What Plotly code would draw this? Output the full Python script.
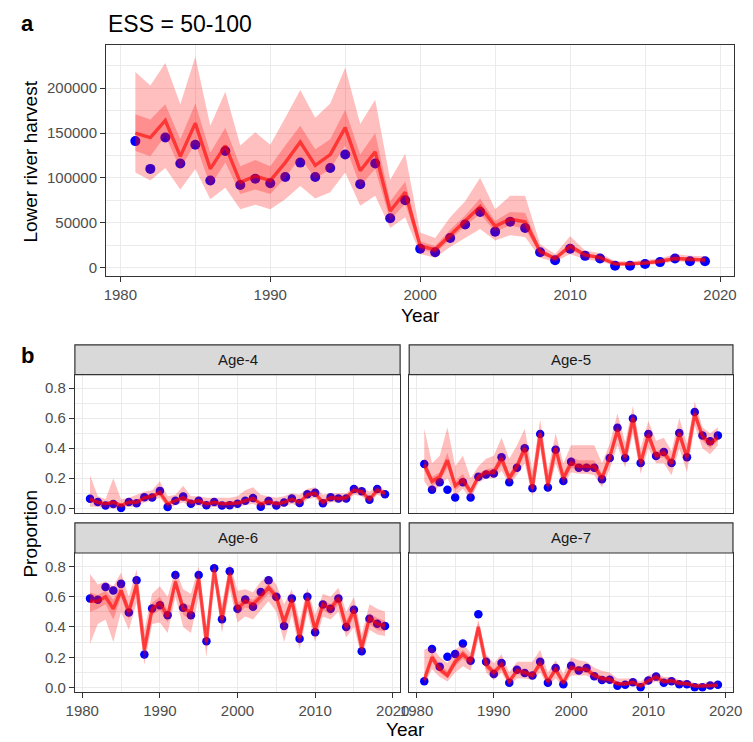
import plotly.graph_objects as go

W, H = 753, 742

years = list(range(1981, 2020))

# ---- panel a: lower river harvest ----
harvest_obs = [141000, 110000, 145000, 116000, 137000, 97000, 130000, 92000, 99000, 94000,
               101000, 117000, 101000, 111000, 126000, 93000, 116000, 55000, 75000, 21000,
               17000, 33000, 48000, 62000, 40000, 51000, 44000, 17000, 8000, 21000,
               13000, 10000, 2000, 2000, 4000, 6000, 10000, 7000, 7000]
harvest_med = [150000, 145000, 164000, 124000, 161000, 110000, 136000, 95000, 102000, 97000,
               117000, 140000, 114000, 126000, 156000, 108000, 129000, 63000, 84000, 24000,
               20000, 36000, 52000, 68000, 46000, 54000, 51000, 18000, 10000, 24000,
               14000, 11000, 4000, 4000, 5000, 7000, 10000, 9000, 8500]
harvest_hi50 = [171000, 165000, 182000, 143000, 183000, 128000, 156000, 113000, 120000, 113000,
                136000, 158000, 132000, 143000, 176000, 126000, 150000, 74000, 96000, 29000,
                24000, 42000, 58000, 77000, 52000, 62000, 61000, 21000, 12000, 27000,
                16000, 13000, 5000, 5000, 6000, 8000, 12000, 11000, 10000]
harvest_lo50 = [130000, 124000, 147000, 110000, 139000, 91000, 117000, 82000, 87000, 82000,
                100000, 123000, 99000, 110000, 136000, 91000, 110000, 53000, 71000, 20000,
                16000, 31000, 46000, 60000, 40000, 47000, 43000, 15000, 8500, 20000,
                11500, 9500, 2500, 2500, 3500, 5000, 8500, 7000, 6500]
harvest_hi95 = [218000, 203000, 228000, 182000, 235000, 158000, 196000, 136000, 151000, 137000,
                167000, 198000, 167000, 183000, 223000, 160000, 187000, 98000, 127000, 39000,
                33000, 56000, 74000, 100000, 65000, 80000, 80000, 26000, 15000, 35000,
                19000, 16000, 7000, 7000, 8500, 10000, 15000, 13000, 12500]
harvest_lo95 = [106000, 97000, 111000, 87000, 110000, 76000, 89000, 65000, 70000, 65000,
                76000, 91000, 77000, 84000, 106000, 69000, 80000, 44000, 56000, 15000,
                11000, 23000, 33000, 43000, 30000, 36000, 34000, 11000, 6000, 15000,
                9000, 7000, 2000, 2000, 3000, 4000, 7000, 6000, 5000]

# ---- panel b: age proportions ----
age_labels = ["Age-4", "Age-5", "Age-6", "Age-7"]

age4_obs = [0.063, 0.042, 0.018, 0.028, 0.002, 0.042, 0.033, 0.074, 0.072, 0.116,
            0.009, 0.05, 0.079, 0.031, 0.05, 0.02, 0.042, 0.018, 0.02, 0.031,
            0.05, 0.068, 0.011, 0.048, 0.018, 0.039, 0.066, 0.035, 0.094, 0.103,
            0.033, 0.074, 0.066, 0.066, 0.129, 0.114, 0.057, 0.129, 0.094]
age4_med = [0.06, 0.04, 0.03, 0.04, 0.02, 0.04, 0.04, 0.07, 0.08, 0.105,
            0.03, 0.05, 0.07, 0.04, 0.05, 0.03, 0.04, 0.03, 0.03, 0.035,
            0.05, 0.065, 0.03, 0.045, 0.03, 0.04, 0.06, 0.04, 0.09, 0.1,
            0.04, 0.07, 0.065, 0.07, 0.12, 0.11, 0.06, 0.12, 0.1]
age4_hi95 = [0.22, 0.08, 0.06, 0.2, 0.06, 0.07, 0.09, 0.11, 0.12, 0.18,
             0.08, 0.09, 0.15, 0.08, 0.08, 0.07, 0.07, 0.07, 0.07, 0.08,
             0.12, 0.14, 0.09, 0.08, 0.07, 0.08, 0.1, 0.09, 0.13, 0.14,
             0.09, 0.1, 0.1, 0.1, 0.15, 0.14, 0.11, 0.15, 0.12]
age4_lo95 = [0.01, 0.01, 0.0, 0.0, 0.0, 0.01, 0.01, 0.04, 0.05, 0.07,
             0.0, 0.02, 0.04, 0.01, 0.02, 0.0, 0.01, 0.0, 0.0, 0.01,
             0.02, 0.03, 0.0, 0.02, 0.0, 0.01, 0.03, 0.01, 0.06, 0.07,
             0.01, 0.04, 0.04, 0.04, 0.09, 0.08, 0.03, 0.09, 0.07]
age4_hi50 = [0.075, 0.052, 0.04, 0.055, 0.03, 0.052, 0.052, 0.082, 0.092, 0.12,
             0.04, 0.062, 0.085, 0.052, 0.062, 0.04, 0.052, 0.04, 0.04, 0.047,
             0.065, 0.08, 0.042, 0.057, 0.042, 0.052, 0.073, 0.052, 0.103, 0.113,
             0.052, 0.082, 0.078, 0.082, 0.133, 0.123, 0.073, 0.133, 0.112]
age4_lo50 = [0.045, 0.03, 0.02, 0.028, 0.012, 0.03, 0.03, 0.06, 0.068, 0.09,
             0.02, 0.04, 0.058, 0.03, 0.04, 0.02, 0.03, 0.02, 0.02, 0.025,
             0.038, 0.052, 0.02, 0.035, 0.02, 0.03, 0.048, 0.03, 0.078, 0.088,
             0.03, 0.06, 0.054, 0.058, 0.108, 0.098, 0.048, 0.108, 0.088]

age5_obs = [0.295, 0.123, 0.173, 0.123, 0.072, 0.173, 0.072, 0.21, 0.225, 0.232,
            0.339, 0.173, 0.269, 0.4, 0.133, 0.495, 0.138, 0.39, 0.182, 0.309,
            0.269, 0.269, 0.269, 0.193, 0.335, 0.536, 0.335, 0.597, 0.302, 0.495,
            0.348, 0.374, 0.302, 0.501, 0.339, 0.641, 0.484, 0.446, 0.484]
age5_med = [0.29, 0.18, 0.21, 0.32, 0.15, 0.19, 0.11, 0.21, 0.24, 0.24,
            0.33, 0.2, 0.28, 0.4, 0.13, 0.5, 0.15, 0.4, 0.2, 0.3,
            0.28, 0.28, 0.28, 0.2, 0.34, 0.52, 0.34, 0.6, 0.3, 0.49,
            0.35, 0.37, 0.3, 0.5, 0.34, 0.63, 0.48, 0.43, 0.47]
age5_hi95 = [0.53, 0.3, 0.35, 0.54, 0.28, 0.35, 0.2, 0.28, 0.33, 0.35,
             0.47, 0.33, 0.42, 0.53, 0.25, 0.59, 0.25, 0.5, 0.3, 0.42,
             0.42, 0.42, 0.42, 0.3, 0.43, 0.63, 0.44, 0.68, 0.4, 0.58,
             0.45, 0.47, 0.38, 0.6, 0.43, 0.71, 0.54, 0.5, 0.54]
age5_lo95 = [0.18, 0.1, 0.15, 0.2, 0.08, 0.13, 0.06, 0.17, 0.2, 0.2,
             0.25, 0.16, 0.22, 0.3, 0.08, 0.4, 0.1, 0.3, 0.15, 0.24,
             0.23, 0.23, 0.22, 0.14, 0.26, 0.42, 0.27, 0.5, 0.23, 0.4,
             0.3, 0.3, 0.22, 0.4, 0.24, 0.55, 0.4, 0.36, 0.42]
age5_hi50 = [0.33, 0.21, 0.24, 0.37, 0.18, 0.23, 0.13, 0.23, 0.26, 0.27,
             0.37, 0.23, 0.31, 0.44, 0.16, 0.53, 0.18, 0.43, 0.23, 0.34,
             0.32, 0.32, 0.32, 0.23, 0.37, 0.56, 0.37, 0.63, 0.33, 0.52,
             0.38, 0.4, 0.33, 0.53, 0.37, 0.66, 0.5, 0.46, 0.5]
age5_lo50 = [0.25, 0.15, 0.18, 0.27, 0.12, 0.16, 0.09, 0.19, 0.22, 0.22,
             0.29, 0.17, 0.25, 0.36, 0.11, 0.46, 0.12, 0.36, 0.17, 0.27,
             0.25, 0.25, 0.25, 0.17, 0.31, 0.48, 0.31, 0.56, 0.27, 0.45,
             0.33, 0.34, 0.27, 0.46, 0.3, 0.6, 0.45, 0.4, 0.45]

age6_obs = [0.589, 0.58, 0.665, 0.641, 0.685, 0.495, 0.709, 0.219, 0.523, 0.543,
            0.477, 0.744, 0.527, 0.477, 0.744, 0.306, 0.788, 0.451, 0.768, 0.521,
            0.582, 0.534, 0.632, 0.709, 0.6, 0.407, 0.589, 0.322, 0.6, 0.365,
            0.549, 0.521, 0.589, 0.4, 0.514, 0.239, 0.455, 0.422, 0.407]
age6_med = [0.57, 0.57, 0.6, 0.52, 0.64, 0.5, 0.68, 0.25, 0.52, 0.56,
            0.47, 0.7, 0.52, 0.5, 0.72, 0.3, 0.78, 0.45, 0.75, 0.52,
            0.57, 0.55, 0.6, 0.66, 0.6, 0.43, 0.58, 0.33, 0.59, 0.38,
            0.55, 0.52, 0.59, 0.4, 0.51, 0.26, 0.46, 0.42, 0.41]
age6_hi95 = [0.75, 0.68, 0.7, 0.67, 0.76, 0.6, 0.78, 0.38, 0.62, 0.67,
             0.6, 0.78, 0.65, 0.62, 0.8, 0.4, 0.83, 0.55, 0.82, 0.64,
             0.65, 0.63, 0.7, 0.74, 0.68, 0.55, 0.65, 0.44, 0.66, 0.48,
             0.62, 0.6, 0.66, 0.5, 0.6, 0.35, 0.55, 0.52, 0.5]
age6_lo95 = [0.29, 0.42, 0.45, 0.3, 0.5, 0.38, 0.56, 0.15, 0.42, 0.43,
             0.36, 0.6, 0.4, 0.36, 0.6, 0.2, 0.72, 0.36, 0.65, 0.43,
             0.47, 0.45, 0.51, 0.57, 0.5, 0.3, 0.48, 0.25, 0.5, 0.3,
             0.47, 0.45, 0.5, 0.33, 0.4, 0.2, 0.38, 0.35, 0.34]
age6_hi50 = [0.63, 0.61, 0.64, 0.58, 0.68, 0.54, 0.72, 0.29, 0.56, 0.6,
             0.51, 0.73, 0.56, 0.54, 0.75, 0.34, 0.8, 0.49, 0.78, 0.56,
             0.6, 0.58, 0.63, 0.69, 0.63, 0.47, 0.61, 0.37, 0.62, 0.42,
             0.58, 0.55, 0.62, 0.44, 0.55, 0.29, 0.49, 0.46, 0.44]
age6_lo50 = [0.5, 0.52, 0.55, 0.45, 0.6, 0.45, 0.64, 0.21, 0.48, 0.51,
             0.43, 0.66, 0.48, 0.45, 0.68, 0.26, 0.76, 0.41, 0.72, 0.48,
             0.53, 0.51, 0.56, 0.62, 0.56, 0.38, 0.54, 0.29, 0.55, 0.34,
             0.51, 0.48, 0.55, 0.36, 0.47, 0.23, 0.42, 0.38, 0.37]

age7_obs = [0.042, 0.254, 0.138, 0.204, 0.221, 0.291, 0.177, 0.484, 0.171, 0.09,
            0.162, 0.031, 0.118, 0.096, 0.079, 0.171, 0.031, 0.129, 0.022, 0.144,
            0.112, 0.129, 0.074, 0.05, 0.052, 0.011, 0.018, 0.035, 0.002, 0.046,
            0.072, 0.031, 0.042, 0.022, 0.022, 0.002, 0.002, 0.013, 0.018]
age7_med = [0.05, 0.2, 0.12, 0.08, 0.17, 0.22, 0.17, 0.4, 0.15, 0.1,
            0.15, 0.04, 0.11, 0.1, 0.08, 0.16, 0.04, 0.12, 0.03, 0.13,
            0.12, 0.12, 0.08, 0.06, 0.055, 0.025, 0.025, 0.035, 0.01, 0.045,
            0.07, 0.04, 0.045, 0.03, 0.025, 0.01, 0.01, 0.015, 0.015]
age7_hi95 = [0.25, 0.27, 0.2, 0.16, 0.25, 0.29, 0.23, 0.45, 0.22, 0.16,
             0.22, 0.1, 0.17, 0.17, 0.17, 0.25, 0.1, 0.18, 0.09, 0.2,
             0.18, 0.17, 0.13, 0.11, 0.1, 0.06, 0.06, 0.06, 0.04, 0.08,
             0.1, 0.07, 0.07, 0.05, 0.05, 0.03, 0.03, 0.04, 0.04]
age7_lo95 = [0.02, 0.12, 0.07, 0.04, 0.1, 0.14, 0.11, 0.32, 0.1, 0.05,
             0.1, 0.01, 0.06, 0.06, 0.05, 0.1, 0.01, 0.06, 0.01, 0.08,
             0.08, 0.08, 0.05, 0.03, 0.03, 0.01, 0.01, 0.01, 0.0, 0.02,
             0.04, 0.02, 0.02, 0.01, 0.01, 0.0, 0.0, 0.0, 0.0]
age7_hi50 = [0.09, 0.23, 0.15, 0.11, 0.2, 0.25, 0.2, 0.43, 0.18, 0.12,
             0.18, 0.06, 0.13, 0.12, 0.1, 0.19, 0.06, 0.14, 0.05, 0.15,
             0.14, 0.14, 0.1, 0.075, 0.07, 0.035, 0.035, 0.045, 0.02, 0.055,
             0.08, 0.05, 0.055, 0.04, 0.035, 0.017, 0.017, 0.022, 0.022]
age7_lo50 = [0.03, 0.17, 0.1, 0.06, 0.14, 0.19, 0.14, 0.37, 0.12, 0.08,
             0.12, 0.025, 0.09, 0.08, 0.065, 0.13, 0.025, 0.1, 0.02, 0.11,
             0.1, 0.1, 0.065, 0.045, 0.04, 0.015, 0.015, 0.025, 0.005, 0.035,
             0.055, 0.03, 0.035, 0.02, 0.015, 0.005, 0.005, 0.008, 0.008]

x_ticks = [1980, 1990, 2000, 2010, 2020]
x_minor = [1985, 1995, 2005, 2015]
harvest_ticks = [0, 50000, 100000, 150000, 200000]
harvest_minor = [25000, 75000, 125000, 175000, 225000]
prop_ticks = [0.0, 0.2, 0.4, 0.6, 0.8]
prop_minor = [0.1, 0.3, 0.5, 0.7]

# ---- styles ----
FONT = "Liberation Sans, Arial, sans-serif"
BAND = "rgba(255,0,0,0.25)"
LINE = "rgba(255,0,0,0.62)"
PT = "#0000FF"
GRID = "#EBEBEB"
BORDER = "#333333"


def px_x(p):
    return p / W


def px_y(p):
    return 1 - p / H


fig = go.Figure()


def add_series(xa, ya, lo95, hi95, lo50, hi50, med, obs, msize):
    # points first, then translucent ribbons and line over them
    fig.add_trace(go.Scatter(x=years, y=obs, mode="markers",
                             marker=dict(color=PT, size=msize, line=dict(width=0)),
                             showlegend=False, xaxis=xa, yaxis=ya))
    for lo, hi in ((lo95, hi95), (lo50, hi50)):
        fig.add_trace(go.Scatter(x=years + years[::-1], y=hi + lo[::-1], fill="toself",
                                 fillcolor=BAND, line=dict(width=0), mode="lines",
                                 hoverinfo="skip", showlegend=False, xaxis=xa, yaxis=ya))
    fig.add_trace(go.Scatter(x=years, y=med, mode="lines", line=dict(color=LINE, width=3.4),
                             showlegend=False, xaxis=xa, yaxis=ya))


add_series("x", "y", harvest_lo95, harvest_hi95, harvest_lo50, harvest_hi50,
           harvest_med, harvest_obs, 10)
facet_data = [
    (age4_lo95, age4_hi95, age4_lo50, age4_hi50, age4_med, age4_obs),
    (age5_lo95, age5_hi95, age5_lo50, age5_hi50, age5_med, age5_obs),
    (age6_lo95, age6_hi95, age6_lo50, age6_hi50, age6_med, age6_obs),
    (age7_lo95, age7_hi95, age7_lo50, age7_hi50, age7_med, age7_obs),
]
for i, d in enumerate(facet_data):
    add_series(f"x{i + 2}", f"y{i + 2}", *d, 8.5)

tickfont = dict(family=FONT, size=15, color="#4D4D4D")


def xax(domain, anchor, show_labels):
    return dict(domain=domain, anchor=anchor, range=[1979.05, 2020.95],
                tickvals=x_ticks, showticklabels=show_labels,
                ticks="outside" if show_labels else "", ticklen=5, tickwidth=1.2, tickcolor=BORDER,
                tickfont=tickfont, showgrid=True, gridcolor=GRID, gridwidth=1.3,
                minor=dict(tickvals=x_minor, showgrid=True, gridcolor=GRID, gridwidth=0.7, ticks=""),
                showline=True, mirror=True, linecolor=BORDER, linewidth=1.2, zeroline=False)


def yax(domain, anchor, rng, tv, mv, fmt, show_labels):
    return dict(domain=domain, anchor=anchor, range=rng, tickvals=tv, tickformat=fmt,
                showticklabels=show_labels, ticks="outside" if show_labels else "",
                ticklen=5, tickwidth=1.2, tickcolor=BORDER, tickfont=tickfont,
                showgrid=True, gridcolor=GRID, gridwidth=1.3,
                minor=dict(tickvals=mv, showgrid=True, gridcolor=GRID, gridwidth=0.7, ticks=""),
                showline=True, mirror=True, linecolor=BORDER, linewidth=1.2, zeroline=False)


# pixel geometry
top_x = [px_x(99.5), px_x(743)]
top_y = [px_y(277.7), px_y(45.7)]
left_x = [px_x(67.5), px_x(400.7)]
right_x = [px_x(410), px_x(741.7)]
row1_panel = (376.7, 515.3)
row1_strip = (346.7, 376.7)
row2_panel = (556, 695.5)
row2_strip = (525.7, 556)
row1_y = [px_y(row1_panel[1]), px_y(row1_panel[0])]
row2_y = [px_y(row2_panel[1]), px_y(row2_panel[0])]

prop_range = [-0.028, 0.889]
harvest_range = [-9700, 247700]

fig.update_layout(
    xaxis=xax(top_x, "y", True),
    yaxis=yax(top_y, "x", harvest_range, harvest_ticks, harvest_minor, "d", True),
    xaxis2=xax(left_x, "y2", False),
    yaxis2=yax(row1_y, "x2", prop_range, prop_ticks, prop_minor, ".1f", True),
    xaxis3=xax(right_x, "y3", False),
    yaxis3=yax(row1_y, "x3", prop_range, prop_ticks, prop_minor, ".1f", False),
    xaxis4=xax(left_x, "y4", True),
    yaxis4=yax(row2_y, "x4", prop_range, prop_ticks, prop_minor, ".1f", True),
    xaxis5=xax(right_x, "y5", True),
    yaxis5=yax(row2_y, "x5", prop_range, prop_ticks, prop_minor, ".1f", False),
)

shapes = []
annotations = []
strips = [(left_x, row1_strip, age_labels[0]), (right_x, row1_strip, age_labels[1]),
          (left_x, row2_strip, age_labels[2]), (right_x, row2_strip, age_labels[3])]
for xd, (s0, s1), lab in strips:
    shapes.append(dict(type="rect", xref="paper", yref="paper", x0=xd[0], x1=xd[1],
                       y0=px_y(s1), y1=px_y(s0), fillcolor="#D9D9D9",
                       line=dict(color=BORDER, width=1.2), layer="above"))
    annotations.append(dict(text=lab, xref="paper", yref="paper", x=(xd[0] + xd[1]) / 2,
                            y=px_y((s0 + s1) / 2), xanchor="center", yanchor="middle",
                            showarrow=False, font=dict(family=FONT, size=15, color="#1A1A1A")))


def label(text, x, y, size, angle=0, bold=False, anchor="center", color="black"):
    annotations.append(dict(text=f"<b>{text}</b>" if bold else text, xref="paper", yref="paper",
                            x=px_x(x), y=px_y(y), xanchor=anchor, yanchor="middle",
                            textangle=angle, showarrow=False,
                            font=dict(family=FONT, size=size, color=color)))


label("a", 10, 24, 22, bold=True, anchor="left")
label("ESS = 50-100", 99, 24, 23, anchor="left")
label("Lower river harvest", 22, 162, 19, angle=-90)
label("Year", 422, 317, 19)
label("b", 10, 357, 22, bold=True, anchor="left")
label("Proportion", 22, 536, 19, angle=-90)
label("Year", 406, 733, 19)

fig.update_layout(width=W, height=H, margin=dict(l=0, r=0, t=0, b=0),
                  paper_bgcolor="white", plot_bgcolor="white",
                  shapes=shapes, annotations=annotations, showlegend=False,
                  font=dict(family=FONT))

fig.write_html("out.html")
